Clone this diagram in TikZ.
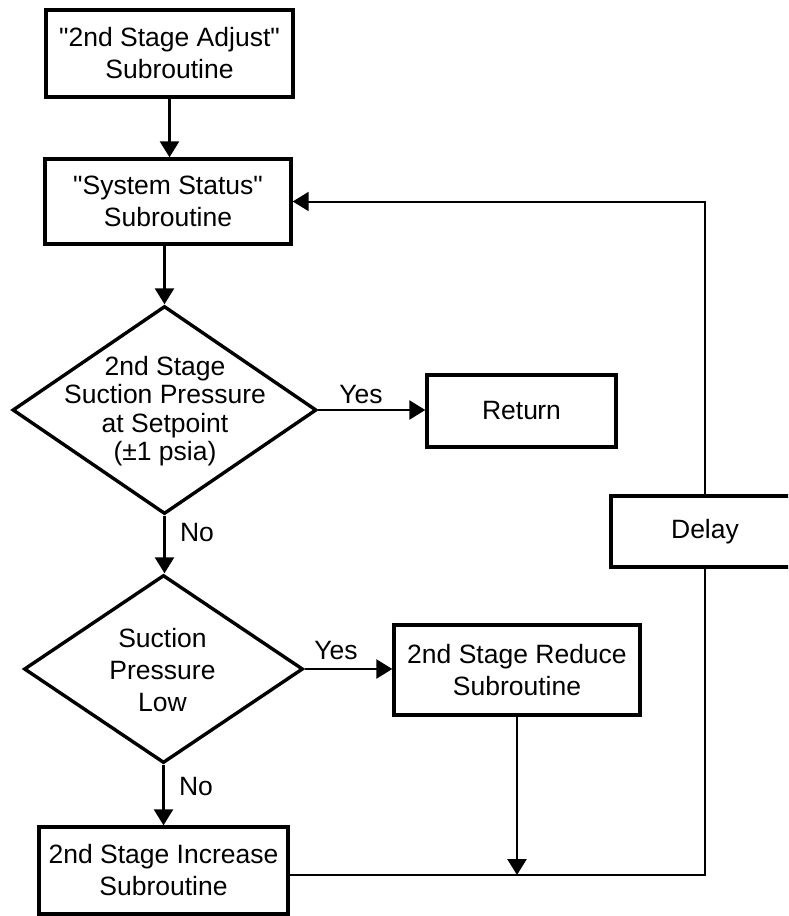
\documentclass[tikz,border=0pt]{standalone}
\usepackage{fontspec}
\setmainfont{Liberation Sans}
\usetikzlibrary{shapes.geometric,arrows.meta}
\begin{document}
\begin{tikzpicture}[x=1pt,y=-1pt,
  font=\fontsize{26.5}{32}\selectfont,
  box/.style={draw, line width=3.4pt, align=center, inner sep=0pt},
  dia/.style={draw, diamond, line width=3.4pt, inner sep=0pt},
  dtext/.style={align=center, inner sep=0pt},
  tip/.tip={Triangle[length=16pt,width=19pt]},
  flow/.style={line width=2.6pt, -tip},
  loopline/.style={line width=2pt},
  lbl/.style={inner sep=0pt}]

% page area
\fill[white] (0,0) rectangle (788,916);
\clip (0,0) rectangle (788,916);

% process boxes
\node[box, minimum width=247, minimum height=87] (adj) at (169.5,53.5) {\textquotedbl 2nd Stage Adjust\textquotedbl\\Subroutine};
\node[box, minimum width=246, minimum height=85] (sys) at (168,201.5) {\textquotedbl System Status\textquotedbl\\Subroutine};
\node[box, minimum width=189, minimum height=72] (ret) at (521.5,411) {Retu\kern-0.6pt rn};
\node[box, minimum width=188, minimum height=71] (delay) at (705,531.5) {Delay};
\node[box, minimum width=246, minimum height=90] (red) at (517,670) {2nd Stage Reduce\\Subroutine};
\node[box, minimum width=249, minimum height=87] (inc) at (163.5,870.5) {2nd Stage Increase\\Subroutine};

% decisions
\node[dia, minimum width=304, minimum height=208] (q1) at (164.5,410) {};
\node[dtext, font=\fontsize{26.5}{28.5}\selectfont] (q1t) at (165,411) {2nd Stage\\Suction Pressure\\at Setpoint\\(±1 psia)};
\node[dia, minimum width=279, minimum height=188] (q2) at (163.5,669) {};
\node[dtext] (q2t) at (162.5,670) {Suction\\Pressure\\Low};

% branch labels
\node[lbl] (yes1) at (361,395) {Yes};
\node[lbl] (no1) at (197,533) {No};
\node[lbl] (yes2) at (336,651) {Yes};
\node[lbl] (no2) at (196,787) {No};

% routing points of the return loop
\coordinate (merge) at (517,875);
\coordinate (bend) at (705,875);
\coordinate (top) at (delay.north |- sys.east);

% main flow
\draw[flow] (adj.south) -- (adj.south |- sys.north);
\draw[flow] (q1.north |- sys.south) -- (q1.north);
\draw[flow] (q1.east) -- (q1.east -| ret.west);
\draw[flow] (q1.south) -- (q1.south |- q2.north);
\draw[flow] (q2.east) -- (q2.east -| red.west);
\draw[flow] (q2.south) -- (q2.south |- inc.north);
\draw[flow] (red.south) -- (merge);

% loop back through the delay
\draw[loopline] (inc.east |- merge) -- (bend) -- (delay.south);
\draw[loopline, -tip] (delay.north) -- (top) -- (sys.east);
\end{tikzpicture}
\end{document}
